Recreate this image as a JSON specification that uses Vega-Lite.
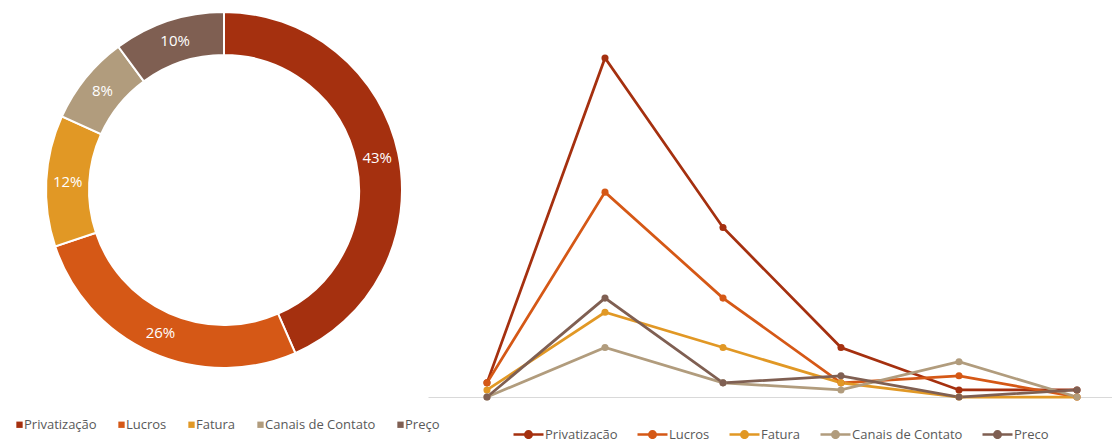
{
  "$schema": "https://vega.github.io/schema/vega-lite/v6.json",
  "padding": 0,
  "background": "white",
  "spacing": 0,
  "bounds": "flush",
  "config": {
    "view": {"stroke": null},
    "font": "Open Sans",
    "legend": {"labelFont": "Open Sans", "labelFontSize": 13, "labelColor": "#595959", "padding": 0}
  },
  "datasets": {
    "donut": [
      {"motivo": "Privatização", "pct": 0.434, "ordem": 1},
      {"motivo": "Lucros", "pct": 0.264, "ordem": 2},
      {"motivo": "Fatura", "pct": 0.119, "ordem": 3},
      {"motivo": "Canais de Contato", "pct": 0.081, "ordem": 4},
      {"motivo": "Preço", "pct": 0.101, "ordem": 5}
    ],
    "linhas": [
      {"motivo": "Privatização", "periodo": 1, "valor": 2},
      {"motivo": "Privatização", "periodo": 2, "valor": 48},
      {"motivo": "Privatização", "periodo": 3, "valor": 24},
      {"motivo": "Privatização", "periodo": 4, "valor": 7},
      {"motivo": "Privatização", "periodo": 5, "valor": 1},
      {"motivo": "Privatização", "periodo": 6, "valor": 1},
      {"motivo": "Lucros", "periodo": 1, "valor": 2},
      {"motivo": "Lucros", "periodo": 2, "valor": 29},
      {"motivo": "Lucros", "periodo": 3, "valor": 14},
      {"motivo": "Lucros", "periodo": 4, "valor": 2},
      {"motivo": "Lucros", "periodo": 5, "valor": 3},
      {"motivo": "Lucros", "periodo": 6, "valor": 0},
      {"motivo": "Fatura", "periodo": 1, "valor": 1},
      {"motivo": "Fatura", "periodo": 2, "valor": 12},
      {"motivo": "Fatura", "periodo": 3, "valor": 7},
      {"motivo": "Fatura", "periodo": 4, "valor": 2},
      {"motivo": "Fatura", "periodo": 5, "valor": 0},
      {"motivo": "Fatura", "periodo": 6, "valor": 0},
      {"motivo": "Canais de Contato", "periodo": 1, "valor": 0},
      {"motivo": "Canais de Contato", "periodo": 2, "valor": 7},
      {"motivo": "Canais de Contato", "periodo": 3, "valor": 2},
      {"motivo": "Canais de Contato", "periodo": 4, "valor": 1},
      {"motivo": "Canais de Contato", "periodo": 5, "valor": 5},
      {"motivo": "Canais de Contato", "periodo": 6, "valor": 0},
      {"motivo": "Preço", "periodo": 1, "valor": 0},
      {"motivo": "Preço", "periodo": 2, "valor": 14},
      {"motivo": "Preço", "periodo": 3, "valor": 2},
      {"motivo": "Preço", "periodo": 4, "valor": 3},
      {"motivo": "Preço", "periodo": 5, "valor": 0},
      {"motivo": "Preço", "periodo": 6, "valor": 1}
    ]
  },
  "hconcat": [
    {
      "width": 448,
      "height": 380,
      "data": {"name": "donut"},
      "encoding": {
        "theta": {"field": "pct", "type": "quantitative", "stack": true},
        "order": {"field": "ordem", "type": "quantitative"},
        "color": {
          "field": "motivo",
          "type": "nominal",
          "sort": ["Privatização", "Lucros", "Fatura", "Canais de Contato", "Preço"],
          "scale": {
            "domain": ["Privatização", "Lucros", "Fatura", "Canais de Contato", "Preço"],
            "range": ["#A5300F", "#D55816", "#E19825", "#B19C7D", "#7F5F52"]
          },
          "legend": {
            "orient": "none",
            "legendX": 13,
            "legendY": 418,
            "direction": "horizontal",
            "title": null,
            "symbolType": "square",
            "symbolSize": 40,
            "symbolStrokeWidth": 0,
            "labelOffset": -2,
            "columnPadding": 18
          }
        }
      },
      "layer": [
        {"mark": {"type": "arc", "innerRadius": 135, "outerRadius": 178, "stroke": "white", "strokeWidth": 2}},
        {
          "mark": {"type": "text", "radius": 156.5, "fontSize": 15, "font": "Open Sans"},
          "encoding": {
            "text": {"field": "pct", "type": "quantitative", "format": ".0%"},
            "detail": {"field": "motivo"},
            "color": {"value": "white"}
          }
        }
      ]
    },
    {
      "width": 666,
      "height": 397,
      "data": {"name": "linhas"},
      "mark": {"type": "line", "strokeWidth": 2.75, "point": {"filled": true, "size": 50}},
      "encoding": {
        "x": {
          "field": "periodo",
          "type": "ordinal",
          "scale": {"type": "point", "padding": 0.5, "range": [-20, 688]},
          "axis": {"title": null, "labels": false, "ticks": false, "domainColor": "#D9D9D9", "domainWidth": 1, "grid": false}
        },
        "y": {"field": "valor", "type": "quantitative", "scale": {"domain": [0, 56.2], "nice": false}, "axis": null},
        "color": {
          "field": "motivo",
          "type": "nominal",
          "sort": ["Privatização", "Lucros", "Fatura", "Canais de Contato", "Preço"],
          "scale": {
            "domain": ["Privatização", "Lucros", "Fatura", "Canais de Contato", "Preço"],
            "range": ["#A5300F", "#D55816", "#E19825", "#B19C7D", "#7F5F52"]
          },
          "legend": {
            "orient": "none",
            "legendX": 64,
            "legendY": 418,
            "direction": "horizontal",
            "title": null,
            "symbolType": "M-1,0H1M-0.22,0A0.22,0.22,0,1,1,0.22,0A0.22,0.22,0,1,1,-0.22,0Z",
            "symbolSize": 900,
            "symbolStrokeWidth": 2.5,
            "labelOffset": 0,
            "columnPadding": 14
          }
        }
      }
    }
  ],
  "resolve": {"scale": {"color": "independent"}, "legend": {"color": "independent"}}
}
